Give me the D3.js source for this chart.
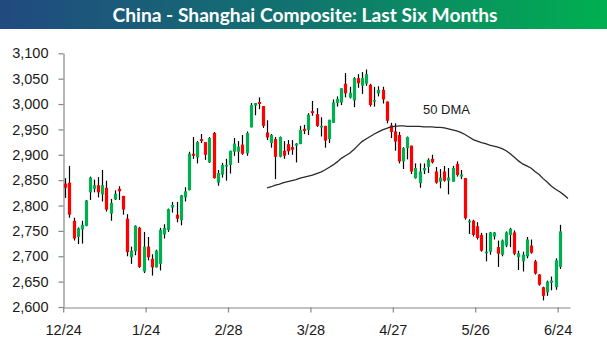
<!DOCTYPE html>
<html><head><meta charset="utf-8">
<script src="https://cdn.jsdelivr.net/npm/d3@7"></script>
<style>html,body{margin:0;padding:0;background:#fff;}svg{display:block;}</style>
</head><body>
<svg id="c" width="607" height="339"></svg>
<script>
const title = "China - Shanghai Composite: Last Six Months";
const tickLabels = ["12/24","1/24","2/28","3/28","4/27","5/26","6/24"];
const tickEvery = 20;
const slotCount = 123;
const yTicks = [2600,2650,2700,2750,2800,2850,2900,2950,3000,3050,3100];
const openVals = [2843,2845,2770,2738,2753,2760,2826,2833,2840,2822,2835,2784,2812,2833,2819,2774,2698,2710,2756,2670,
2719,2695,2678,2685,2743,2752,2796,2782,2771,2816,2830,2902,2895,2931,2925,2885,2943,2845,2861,2877,
2880,2906,2906,2920,2903,2954,2997,3004,2996,2944,2923,2931,2896,2908,2921,2915,2918,2921,2951,2949,
2986,2980,2954,2957,2931,2963,3002,3003,3040,3013,3007,3051,3036,3040,3038,3005,3021,3028,3005,2958,
2946,2939,2887,2913,2918,2854,2844,2869,2876,2892,2867,2847,2867,2849,2847,2882,2857,2854,2767,2770,
2759,2742,2706,2709,2739,2718,2703,2721,2742,2747,2698,2690,2700,2721,2690,2664,2639,2629,2648,2639,2679];
const highVals = [2854,2878,2776,2757,2770,2811,2857,2851,2856,2870,2849,2813,2830,2838,2819,2783,2719,2761,2758,2748,
2738,2704,2713,2756,2763,2794,2807,2807,2821,2836,2906,2935,2927,2941,2925,2935,2945,2870,2884,2892,
2908,2933,2927,2939,2946,3002,3002,3013,2996,2968,2941,2935,2936,2927,2929,2929,2923,2957,2959,2982,
3006,2992,2974,2957,2969,3009,3015,3031,3061,3034,3053,3059,3063,3068,3040,3034,3035,3034,3005,2963,
2962,2945,2915,2936,2918,2883,2883,2883,2893,2900,2876,2872,2878,2874,2878,2887,2870,2854,2773,2772,
2767,2746,2746,2748,2748,2731,2733,2749,2756,2751,2711,2709,2738,2733,2693,2665,2640,2652,2660,2696,2762];
const lowVals = [2815,2776,2731,2724,2725,2759,2811,2826,2816,2808,2788,2770,2811,2811,2782,2700,2685,2702,2677,2667,
2692,2662,2678,2672,2735,2748,2786,2767,2761,2808,2830,2892,2883,2923,2890,2884,2853,2839,2855,2849,
2863,2898,2884,2900,2898,2954,2978,2990,2953,2929,2914,2852,2895,2892,2900,2900,2885,2921,2941,2939,
2977,2955,2936,2914,2923,2963,2995,2998,3013,3011,2994,3032,3020,3036,2995,2995,3015,3001,2962,2933,
2908,2883,2872,2891,2862,2853,2835,2862,2864,2883,2843,2834,2847,2822,2847,2857,2852,2772,2744,2739,
2733,2709,2690,2703,2733,2679,2700,2718,2718,2702,2673,2670,2696,2705,2664,2642,2613,2622,2633,2634,2675];
const closeVals = [2835,2782,2735,2755,2762,2810,2855,2840,2826,2840,2792,2805,2823,2828,2792,2708,2711,2760,2679,2719,
2698,2678,2711,2752,2756,2793,2801,2774,2820,2828,2902,2898,2925,2927,2900,2933,2854,2864,2880,2880,
2908,2922,2916,2902,2943,2998,3002,3000,2957,2934,2939,2896,2935,2898,2907,2910,2922,2949,2947,2979,
2982,2957,2957,2928,2969,3003,3010,3031,3021,3022,3051,3041,3051,3059,2998,3008,3028,3009,2967,2945,
2926,2887,2913,2935,2867,2874,2867,2874,2890,2885,2845,2855,2849,2855,2874,2860,2861,2775,2770,2742,
2736,2711,2709,2747,2747,2705,2731,2747,2754,2705,2706,2703,2733,2707,2666,2644,2622,2650,2652,2692,2749];
const dmaStart = 49;
const dmaVals = [2835,2837,2840,2842,2845,2847,2849,2851,2854,2856,2858,2860,2863,2866,2870,2875,2880,2886,2893,2898,
2903,2910,2918,2926,2931,2936,2941,2945,2949,2952,2955,2956,2957,2957,2956,2956,2956,2956,2955,2955,
2955,2954,2954,2953,2951,2949,2947,2944,2940,2935,2930,2927,2924,2922,2919,2917,2915,2912,2908,2902,
2895,2888,2882,2878,2874,2867,2861,2853,2846,2838,2832,2827,2821,2814];
const dmaLabel = "50 DMA";

const svg = d3.select("#c");
const W = 607;
const defs = svg.append("defs");
const grad = defs.append("linearGradient").attr("id","tg").attr("x1","0").attr("x2","1").attr("y1","0").attr("y2","0");
grad.append("stop").attr("offset","0").attr("stop-color","#214a80");
grad.append("stop").attr("offset","0.5").attr("stop-color","#11746f");
grad.append("stop").attr("offset","1").attr("stop-color","#00b050");
svg.append("rect").attr("x",0).attr("y",0).attr("width",W).attr("height",29).attr("fill","url(#tg)");
svg.append("text").attr("x",305).attr("y",22).attr("text-anchor","middle")
  .attr("font-family","Lato, 'Open Sans', sans-serif").attr("font-weight","bold").attr("font-size",18.5)
  .attr("fill","#fff").attr("textLength",385).attr("lengthAdjust","spacingAndGlyphs").text(title);

const x = d3.scaleLinear().domain([0, slotCount]).range([63.2, 570]);
const y = d3.scaleLinear().domain([2600, 3100]).range([307, 53.3]);
const axisColor = "#868686";
const fontFam = "'Liberation Sans', Arial, sans-serif";

const yAxis = svg.append("g").attr("transform","translate(63.5,0)")
  .call(d3.axisLeft(y).tickValues(yTicks).tickFormat(d3.format(",")).tickSize(5).tickSizeOuter(0).tickPadding(10));
const xTickIdx = tickLabels.map((_, k) => k * tickEvery);
const xAxis = svg.append("g").attr("transform","translate(0,307.5)")
  .call(d3.axisBottom(x).tickValues(xTickIdx).tickFormat((d, k) => tickLabels[k]).tickSize(5).tickSizeOuter(0).tickPadding(12));
[yAxis, xAxis].forEach(g => {
  g.selectAll("path,line").attr("stroke", axisColor).attr("stroke-width",1.2);
  g.selectAll("text").attr("font-family", fontFam).attr("font-size",14.5).attr("fill","#1a1a1a");
});

// candles
const data = openVals.map((o, i) => ({i, o, h: highVals[i], l: lowVals[i], c: closeVals[i]}));
const cg = svg.append("g");
const cx = d => Math.round(x(d.i + 0.5)) + 0.5;
cg.selectAll("line.w").data(data).join("line").attr("class","w")
  .attr("x1", cx).attr("x2", cx).attr("y1", d => y(d.h)).attr("y2", d => y(d.l))
  .attr("stroke","#000").attr("stroke-width",1.2);
cg.selectAll("rect.b").data(data).join("rect").attr("class","b")
  .attr("x", d => cx(d) - 1.6).attr("width", 3.2)
  .attr("y", d => y(Math.max(d.o, d.c)))
  .attr("height", d => Math.max(1.6, Math.abs(y(d.o) - y(d.c))))
  .attr("fill", d => d.c >= d.o ? "#00b050" : "#ff0000");

// 50 DMA
const dma = dmaVals.map((v, k) => ({i: dmaStart + k, v}));
svg.append("path").datum(dma)
  .attr("d", d3.line().x(d => x(d.i + 0.5)).y(d => y(d.v)).curve(d3.curveLinear))
  .attr("fill","none").attr("stroke","#2a2a2a").attr("stroke-width",1.3);
svg.append("text").attr("x",423).attr("y",114).attr("font-family",fontFam).attr("font-size",13)
  .attr("fill","#1a1a1a").text(dmaLabel);
</script>
</body></html>
